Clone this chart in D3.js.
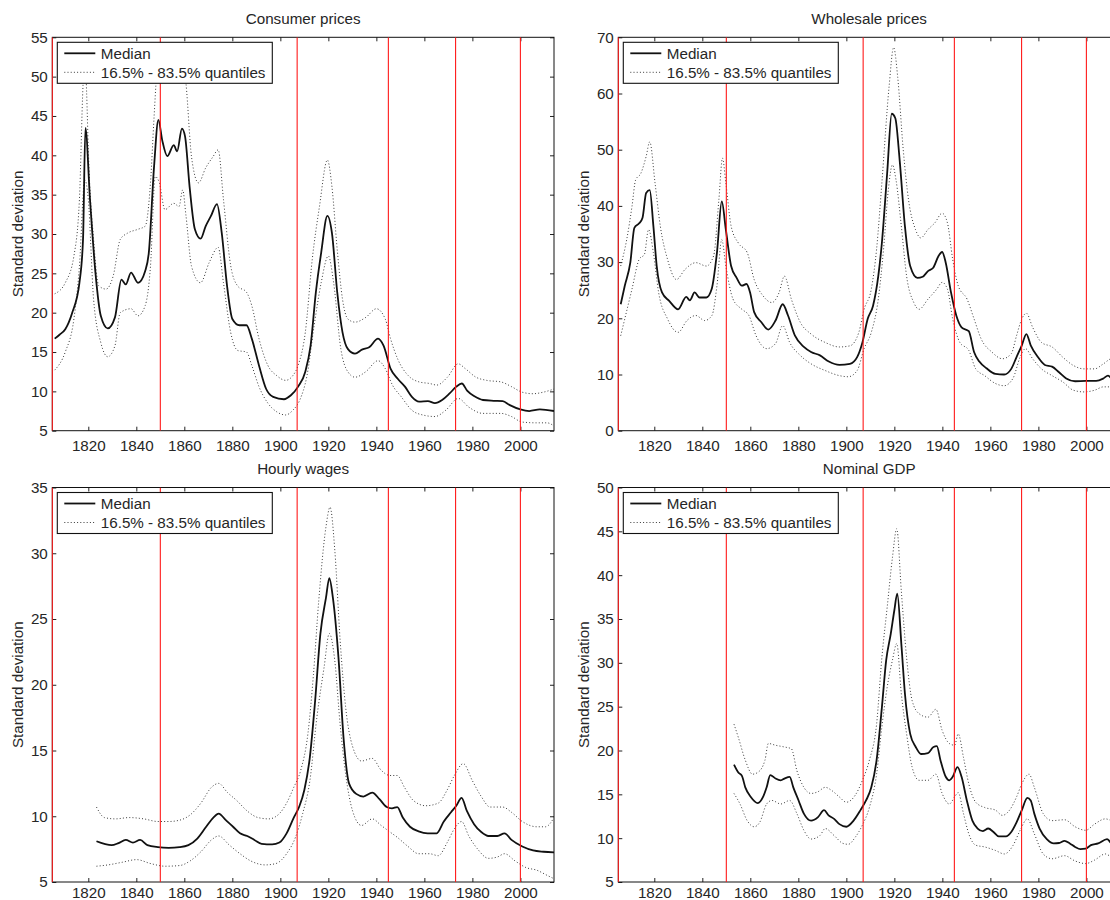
<!DOCTYPE html>
<html><head><meta charset="utf-8">
<script src="https://cdn.jsdelivr.net/npm/d3@7"></script>
<style>
html,body{margin:0;padding:0;background:#fff;}
svg{display:block;}
text{font-family:"Liberation Sans",Arial,Helvetica,sans-serif;fill:#262626;}
</style></head>
<body><svg id="chart" width="1110" height="900"></svg>
<script>
// ---------- DATA ----------
const panelTitles = ["Consumer prices", "Wholesale prices", "Hourly wages", "Nominal GDP"];
const xTickYears = [1820, 1840, 1860, 1880, 1900, 1920, 1940, 1960, 1980, 2000];
const xDomain = [1805, 2014];
const breakYears = [1805, 1850, 1907, 1945, 1973, 2000];
const legendLabels = ["Median", "16.5% - 83.5% quantiles"];

const cpiTicks = [5, 10, 15, 20, 25, 30, 35, 40, 45, 50, 55];
const wpiTicks = [0, 10, 20, 30, 40, 50, 60, 70];
const wageTicks = [5, 10, 15, 20, 25, 30, 35];
const gdpTicks = [5, 10, 15, 20, 25, 30, 35, 40, 45, 50];

const cpiMedian = [[1806,16.7],[1808,17.2],[1810.4,17.9],[1813.3,20],[1816.3,23.8],[1817.8,29.3],[1818.8,43.5],[1820.7,34.4],[1823,25],[1825.2,19.6],[1828.1,18.0],[1831.1,19.4],[1833.8,24.2],[1835.6,23.6],[1837.8,25.1],[1840.7,23.8],[1843.7,25.3],[1845.2,27.6],[1847.4,38.6],[1849.2,44.5],[1850.8,41.9],[1852.9,39.9],[1855.6,41.3],[1857,40.5],[1859,43.4],[1860.3,42.4],[1862.2,36.0],[1864.4,30.6],[1866.8,29.4],[1868.9,31.0],[1871.1,32.3],[1873.6,33.8],[1875.6,30.1],[1877.8,23.4],[1880,19.2],[1883,18.4],[1885.9,18.4],[1888.1,16.7],[1891.1,13.3],[1894.1,10.3],[1897,9.3],[1901.5,9.0],[1904.4,9.5],[1907.4,10.6],[1910.4,12.5],[1912.6,15.8],[1914.8,22.6],[1917,27.6],[1919.6,32.3],[1921.5,30.1],[1923.7,22.6],[1925.9,17.5],[1928.1,15.4],[1931.1,14.8],[1934,15.3],[1937,15.6],[1940.7,16.7],[1943,15.8],[1945.9,12.9],[1948.9,11.6],[1951.9,10.6],[1954.8,9.3],[1957.8,8.7],[1961.5,8.75],[1964.4,8.5],[1967.4,8.9],[1970.4,9.7],[1973.3,10.6],[1975.6,11.0],[1977.8,10.1],[1980.7,9.4],[1984.4,8.9],[1988.9,8.8],[1992.6,8.75],[1995.6,8.25],[2000,7.7],[2003.7,7.5],[2008.1,7.7],[2014,7.5]];
const cpiUpper = [[1806,22.4],[1810.4,23.8],[1814,27.2],[1816.3,34.4],[1817.8,48.9],[1818.6,53],[1819.3,48],[1820,40.7],[1822.2,29.3],[1824.4,23.4],[1827.4,23],[1830.4,24.7],[1833.3,29.3],[1836.3,30.1],[1840.7,30.6],[1843.7,31],[1845.9,36.5],[1847.4,44.9],[1848.4,50],[1849.5,53],[1852,51],[1855,51.5],[1858,52.5],[1860,51],[1860.7,49.1],[1863,39.8],[1865.9,36.5],[1868.9,38.4],[1871.9,39.8],[1874.1,40.7],[1876.3,34.4],[1879.3,26],[1882.2,23.4],[1885.9,22.6],[1888.1,20.9],[1891.1,16.7],[1894.8,13.3],[1898.5,12.0],[1902.2,11.4],[1905.2,12.0],[1907.4,13.3],[1910.4,17.5],[1913.3,26.8],[1916.3,33.5],[1919.6,39.4],[1921.5,36.0],[1923.7,28],[1925.9,21.7],[1928.1,19.2],[1931.1,18.8],[1935.6,19.4],[1940,20.5],[1943.7,19.2],[1945.9,16.7],[1948.9,14.1],[1953.3,12.0],[1957.8,11.2],[1962.2,11.0],[1965.2,10.8],[1969.6,11.8],[1974.1,13.5],[1977,12.9],[1981.5,11.8],[1985.9,11.4],[1991.9,11.2],[1996.3,10.6],[2000.7,9.9],[2005.2,9.7],[2009.6,9.9],[2014,10.3]];
const cpiLower = [[1806,12.7],[1810.4,15],[1814,19.2],[1816.3,25.9],[1818.5,36.9],[1820,34.4],[1822.2,21.7],[1825.2,16.2],[1828.1,14.4],[1831.1,15.8],[1833.3,20],[1837.8,20.5],[1840.7,19.6],[1843.7,20.9],[1845.9,25.9],[1847.9,37.3],[1849.6,36.5],[1851.9,33.1],[1855.6,33.9],[1857.8,33.5],[1859.3,35.6],[1860.7,32.3],[1863,25.9],[1866.7,23.8],[1870.4,26.4],[1874.1,28.3],[1876.3,23.8],[1879.3,17.5],[1882.2,15.2],[1885.9,15],[1888.1,13.3],[1891.1,10.6],[1894.8,8.5],[1898.5,7.4],[1902.2,7.0],[1905.2,7.6],[1908.1,8.9],[1911.1,12.0],[1914.1,18.4],[1917,23.8],[1920,27.2],[1922.2,23.8],[1925.2,15.4],[1928.1,12.5],[1931.1,11.8],[1935.6,12.5],[1940.7,13.9],[1943.7,12.9],[1946.7,10.8],[1950.4,9.3],[1954.8,7.6],[1959.3,7.0],[1964.4,6.8],[1968.9,7.6],[1974.1,9.1],[1978.5,8.0],[1984.4,7.2],[1991.9,7.2],[1996.3,6.8],[2000.7,6.1],[2006.7,6.0],[2011.1,6.0],[2014,5.6]];

const wpiMedian = [[1806,22.5],[1807.7,25.8],[1810,29.9],[1811.7,36.1],[1813.7,36.9],[1815.1,37.9],[1816.6,42.3],[1818.1,42.8],[1819.6,36.5],[1821,29.3],[1823.2,24.6],[1826.2,23.1],[1829.9,21.6],[1833.3,23.8],[1834.8,23.2],[1836.8,24.6],[1838.8,23.7],[1841.7,23.7],[1843.9,25.2],[1846.1,31.7],[1848.1,40.8],[1849.8,35.8],[1852,29.3],[1854.3,27.2],[1856.5,25.8],[1858.4,26.1],[1859.9,24.6],[1861.6,21.1],[1864.6,19.3],[1867.5,18.0],[1870.5,19.6],[1873.5,22.5],[1875.7,20.5],[1878.6,16.9],[1882.3,14.9],[1885.3,14.0],[1889,13.4],[1892.7,12.3],[1897.1,11.7],[1901.5,11.9],[1904.5,13.1],[1906.7,15.7],[1908.9,19.9],[1911.1,22.2],[1913.3,27.5],[1914.8,33.4],[1917,45.8],[1918.9,56.4],[1920.4,55.6],[1922.2,48.2],[1924.4,36.4],[1926.6,29.3],[1929.6,27.2],[1931.8,27.4],[1934,28.4],[1936.2,29.0],[1938.4,31.1],[1939.9,31.8],[1941.4,29.9],[1943.6,24.6],[1945.8,20.5],[1948,18.4],[1951,17.7],[1953.2,14.0],[1955.4,12.3],[1958.4,11.1],[1962.1,10.1],[1965.7,10.0],[1968.7,11.0],[1970.9,13.1],[1973.1,15.2],[1975,17.2],[1976.8,15.2],[1979.8,13.1],[1982.7,11.7],[1985.7,11.4],[1988.6,10.4],[1991.6,9.3],[1995.3,8.8],[1999.7,8.85],[2004.1,8.85],[2007.1,9.3],[2009,9.8],[2010.5,9.3],[2013,9.0]];
const wpiUpper = [[1806,29.3],[1808.5,34],[1810.7,39.9],[1812.2,44.6],[1814.4,45.8],[1816.6,48.8],[1818.1,51.4],[1820.3,44.1],[1822.5,36.4],[1825.5,30.5],[1829.2,26.9],[1832.8,28.7],[1837.3,29.9],[1841.7,29.3],[1844.7,31.1],[1846.9,41.1],[1848.4,48.5],[1849.8,44.1],[1852,36.4],[1855,33.4],[1858.7,31.7],[1861.6,26.9],[1865.3,24.0],[1869,22.8],[1872,24.6],[1874.2,27.5],[1877.1,23.4],[1880.8,19.3],[1885.3,17.2],[1891.2,15.7],[1897.1,14.9],[1901.5,15.1],[1905.2,17.5],[1907.4,21.6],[1910.4,25.2],[1912.6,32.3],[1914.8,44.1],[1917.8,61.2],[1919.7,68.2],[1921.4,62.9],[1923.7,50.0],[1925.9,41.1],[1928.8,35.8],[1931,34.3],[1934,35.8],[1936.9,37.0],[1939.9,38.7],[1942.1,37],[1944.3,30.5],[1946.6,25.8],[1950.3,23.4],[1953.2,19.9],[1956.2,16.3],[1960.6,14.0],[1965,12.8],[1968.7,13.7],[1970.9,16.9],[1973.1,19.9],[1975,20.9],[1977.6,18.4],[1981.3,15.7],[1985.7,14.9],[1990.1,13.1],[1994.6,11.6],[1999,11.0],[2003.4,11.0],[2007.1,11.9],[2010.5,12.8],[2013,12.5]];
const wpiLower = [[1806,16.9],[1807.7,19.9],[1810.7,25.2],[1813.7,30.5],[1815.9,31.4],[1817.6,35.8],[1819.6,31.7],[1821.8,24.6],[1825.5,19.9],[1829.9,17.5],[1833.6,19.6],[1837.3,20.5],[1841,19.6],[1844,20.5],[1846.1,25.8],[1848.1,34],[1849.8,29.3],[1852.8,23.4],[1856.5,21.6],[1859.4,20.5],[1862.4,16.9],[1866.8,14.6],[1870.5,15.5],[1873.5,18.7],[1876.4,15.7],[1880.8,13.4],[1885.3,11.9],[1891.2,10.7],[1897.1,9.8],[1900.8,9.6],[1904.5,10.7],[1907.4,14.6],[1910.4,17.5],[1913.3,23.4],[1915.5,32.3],[1917.5,42.9],[1919.2,47.3],[1920.7,44.6],[1922.9,36.4],[1925.1,27.5],[1928.1,22.8],[1930.3,21.6],[1934,23.4],[1937.7,25.2],[1939.9,26.4],[1942.1,25.2],[1944.3,19.9],[1947.3,15.7],[1951,14.3],[1953.9,11.0],[1957.6,9.8],[1962.1,8.4],[1965.7,8.0],[1969.4,9.3],[1972.4,13.1],[1974.6,14.6],[1977.6,12.8],[1981.3,11.0],[1985.7,9.8],[1990.1,8.7],[1994.6,7.2],[1999,6.9],[2003.4,7.2],[2007.1,7.8],[2010.5,7.8],[2013,7.6]];

const wageMedian = [[1823.4,8.1],[1826.7,7.9],[1829.7,7.8],[1832.6,7.96],[1835.6,8.2],[1838.6,8.0],[1841.6,8.2],[1844.6,7.8],[1849,7.65],[1853.5,7.6],[1858,7.65],[1861.7,7.8],[1865.4,8.3],[1869.1,9.2],[1872.1,9.9],[1874.3,10.2],[1877.3,9.7],[1880.3,9.2],[1883.2,8.7],[1886.2,8.5],[1889.2,8.2],[1892.2,7.9],[1896.6,7.86],[1899.6,8.0],[1902.6,8.7],[1905.6,9.9],[1907.8,10.7],[1910,12.0],[1912.3,14.5],[1914.5,18.8],[1916.7,23.9],[1919,26.6],[1920.4,28.1],[1921.9,26.6],[1924.2,22.1],[1926.4,15.8],[1928.6,12.5],[1931.6,11.7],[1934.6,11.5],[1938.3,11.8],[1941.3,11.3],[1944.3,10.7],[1946.5,10.6],[1948.7,10.7],[1951,9.9],[1954,9.2],[1957.6,8.85],[1961.4,8.7],[1965.1,8.7],[1968.1,9.6],[1971.1,10.3],[1973.3,10.8],[1975.5,11.4],[1977.7,10.4],[1980.7,9.4],[1983.7,8.8],[1986.7,8.5],[1990.4,8.5],[1993.4,8.7],[1996.3,8.2],[2000.8,7.7],[2005.3,7.4],[2009.7,7.3],[2014,7.25]];
const wageUpper = [[1823.4,10.7],[1826.7,9.9],[1831.2,9.8],[1837.1,9.9],[1843.1,9.8],[1849,9.6],[1853.5,9.6],[1858,9.7],[1862.4,10.1],[1866.9,11.0],[1871.3,12.2],[1874.3,12.5],[1878,11.8],[1881.8,11.2],[1886.2,10.4],[1890.7,9.9],[1895.2,9.8],[1899.6,10.2],[1902.6,11.0],[1905.6,12.2],[1908.5,13.5],[1911.5,16.3],[1913.8,20.8],[1916,26.4],[1919,32.0],[1920.7,33.5],[1922.7,30.2],[1924.9,23.4],[1927.2,18.3],[1930.1,15.3],[1933.8,14.2],[1938.3,14.4],[1942,13.5],[1945.7,13.1],[1948.7,13.1],[1951.7,12.2],[1955.4,11.2],[1960.6,10.8],[1965.8,11.0],[1969.5,12.0],[1972.5,13.1],[1976.2,14.0],[1980,12.7],[1983.7,11.5],[1987.4,10.7],[1992.6,10.7],[1996.3,10.3],[2000.8,9.6],[2006.8,9.2],[2010.5,9.2],[2014,9.9]];
const wageLower = [[1823.4,6.2],[1828.2,6.3],[1834.1,6.5],[1840.1,6.7],[1846,6.4],[1852,6.2],[1858,6.25],[1862.4,6.6],[1866.9,7.3],[1871.3,8.2],[1874.3,8.5],[1878.8,7.8],[1883.2,7.15],[1887.7,6.6],[1893.7,6.3],[1898.1,6.4],[1902.6,7.15],[1906.3,8.4],[1909.3,10.2],[1912.3,12.7],[1915.2,17.5],[1918.2,21.3],[1920.4,23.9],[1922.7,21.8],[1924.9,17.0],[1927.2,13.2],[1930.1,10.4],[1933.8,9.3],[1938.3,9.8],[1942,9.3],[1945.7,8.8],[1948.7,8.4],[1953.2,7.7],[1957.6,7.15],[1962.1,7.15],[1965.8,7.0],[1969.5,8.0],[1972.5,9.05],[1975.5,9.6],[1978.5,8.5],[1982.2,7.5],[1986.7,6.8],[1990.4,6.9],[1993.4,7.15],[1997.8,6.6],[2002.3,6.1],[2006.8,5.9],[2011.2,5.5],[2014,5.25]];

const gdpMedian = [[1853.2,18.4],[1855,17.5],[1856.5,17.1],[1857.9,15.8],[1860.2,14.7],[1863.1,14.0],[1865.3,14.7],[1866.8,15.8],[1868.3,17.2],[1870.5,16.8],[1872.7,16.6],[1874.2,16.8],[1876.4,17.0],[1877.9,15.8],[1880.1,14.3],[1882.3,12.8],[1885.3,12.0],[1888.2,12.4],[1890.7,13.2],[1892.6,12.6],[1894.9,12.2],[1897.1,11.6],[1900,11.3],[1903,12.0],[1905.9,13.2],[1908.2,14.3],[1910.4,15.8],[1912.6,18.9],[1914.8,24.9],[1916.6,30.3],[1918.5,33.3],[1920,36],[1921.2,37.9],[1923,31.8],[1924.4,26.5],[1926.6,21.9],[1928.9,20.4],[1931.1,19.6],[1934,19.7],[1936.3,20.4],[1937.7,20.5],[1939.2,18.9],[1941.4,17.0],[1942.9,16.6],[1944.3,17.0],[1946.3,18.1],[1948,17.0],[1950.2,14.3],[1952.5,12.0],[1954.7,11.1],[1956.9,10.8],[1959.1,11.1],[1961.3,10.7],[1963.5,10.2],[1966.5,10.2],[1968.7,10.7],[1970.9,11.8],[1973.1,13.2],[1975.4,14.6],[1976.8,14.3],[1978.3,12.8],[1980.5,11.1],[1983.5,9.9],[1986.4,9.4],[1988.6,9.45],[1990.9,9.7],[1993.1,9.4],[1995.3,9.0],[1997.5,8.75],[1999.7,8.8],[2001.9,9.2],[2004.9,9.4],[2008.6,9.9],[2010.5,9.4],[2013,9.2]];
const gdpUpper = [[1853.2,23.0],[1855,21.5],[1857.9,18.9],[1860.9,17.3],[1863.1,17.5],[1866.1,18.9],[1867.5,20.8],[1870.5,20.6],[1874.2,20.4],[1877.1,20.2],[1879.4,17.7],[1882.3,15.8],[1885.3,15.1],[1888.2,15.3],[1891.2,15.8],[1894.1,15.4],[1897.1,14.7],[1900,14.1],[1903.7,14.9],[1906.7,16.6],[1909.6,18.9],[1912.6,23.0],[1914.8,30.6],[1917,36.3],[1919.2,42],[1921,45.3],[1922.9,38.2],[1925.1,30.6],[1927.4,25.7],[1930.3,24.2],[1934,23.8],[1937.3,24.7],[1939.9,22.3],[1942.9,20.8],[1945.1,20.6],[1946.6,21.9],[1948.8,19.2],[1951,16.2],[1953.9,14.1],[1957.6,13.5],[1962.1,13.2],[1965,12.6],[1968,13.2],[1970.9,14.7],[1973.1,16.2],[1976.1,17.3],[1978.3,15.8],[1982,12.8],[1985.7,12.0],[1990.9,12.1],[1995.3,11.3],[1999.7,10.9],[2003.4,11.6],[2007.9,12.2],[2010.5,12.0],[2013,11.8]];
const gdpLower = [[1853.2,15.1],[1855.7,13.9],[1858.7,12.0],[1861.6,11.3],[1863.9,11.8],[1866.8,13.9],[1869,14.3],[1872.7,13.9],[1876.4,14.3],[1879.4,12.8],[1882.3,10.9],[1885.3,9.9],[1889,10.3],[1891.2,11.1],[1894.9,10.3],[1898.6,9.4],[1900.8,9.3],[1903.7,10.1],[1906.7,11.5],[1909.6,13.5],[1912.6,17.3],[1914.8,22.7],[1917,27.2],[1919.2,30.3],[1921,32.2],[1922.9,26.5],[1925.1,21.9],[1927.4,18.1],[1930.3,16.6],[1934,16.6],[1937.3,17.3],[1939.9,15.1],[1942.9,13.9],[1945.1,14.7],[1946.6,15.2],[1948.8,12.8],[1951,10.5],[1953.9,9.2],[1957.6,9.0],[1962.1,8.6],[1965.8,8.2],[1969.5,9.2],[1972.4,10.9],[1975.4,12.2],[1978.3,10.5],[1982,8.2],[1985.7,7.65],[1990.9,8.0],[1995.3,7.4],[1999.7,7.1],[2003.4,7.5],[2007.9,8.2],[2010.5,7.85],[2013,7.7]];

// ---------- LAYOUT ----------
const svg = d3.select("#chart");
const FS = 15.2;
const panels = [
  {title: panelTitles[0], x0: 52.3, x1: 554, y0: 37.3, y1: 430.7, ticks: cpiTicks, med: cpiMedian, up: cpiUpper, lo: cpiLower, labGap: 9.5},
  {title: panelTitles[1], x0: 618.3, x1: 1120, y0: 37.3, y1: 430.7, ticks: wpiTicks, med: wpiMedian, up: wpiUpper, lo: wpiLower, labGap: 9.5},
  {title: panelTitles[2], x0: 52.3, x1: 554, y0: 487.5, y1: 882, ticks: wageTicks, med: wageMedian, up: wageUpper, lo: wageLower, labGap: 5},
  {title: panelTitles[3], x0: 618.3, x1: 1120, y0: 487.5, y1: 882, ticks: gdpTicks, med: gdpMedian, up: gdpUpper, lo: gdpLower, labGap: 5}
];

panels.forEach((p, i) => {
  const x = d3.scaleLinear().domain(xDomain).range([p.x0, p.x1]);
  const y = d3.scaleLinear().domain(d3.extent(p.ticks)).range([p.y1, p.y0]);
  const w = p.x1 - p.x0, h = p.y1 - p.y0;

  const clipId = "clip" + i;
  svg.append("clipPath").attr("id", clipId)
    .append("rect").attr("x", p.x0 - 1).attr("y", p.y0).attr("width", w + 1).attr("height", h);

  const g = svg.append("g");
  const plot = g.append("g").attr("clip-path", `url(#${clipId})`);

  const line = d3.line().x(d => x(d[0])).y(d => y(d[1])).curve(d3.curveMonotoneX);

  [p.up, p.lo].forEach(s => {
    plot.append("path").datum(s).attr("d", line)
      .attr("fill", "none").attr("stroke", "#3a3a3a").attr("stroke-width", 1)
      .attr("stroke-dasharray", "1,2.2");
  });
  plot.append("path").datum(p.med).attr("d", line)
    .attr("fill", "none").attr("stroke", "#111").attr("stroke-width", 1.8)
    .attr("stroke-linejoin", "round");

  // axes
  const ax = (sel) => { sel.select(".domain").remove(); sel.selectAll("text").style("font-size", FS + "px").style("fill", "#262626"); sel.selectAll(".tick line").attr("stroke", "#222"); };
  g.append("g").attr("transform", `translate(0,${p.y1})`)
    .call(d3.axisBottom(x).tickValues(xTickYears).tickFormat(d3.format("d")).tickSizeInner(-4).tickSizeOuter(0).tickPadding(p.labGap))
    .call(ax);
  g.append("g").attr("transform", `translate(0,${p.y0})`)
    .call(d3.axisTop(x).tickValues(xTickYears).tickFormat("").tickSizeInner(-4).tickSizeOuter(0))
    .call(ax);
  g.append("g").attr("transform", `translate(${p.x0},0)`)
    .call(d3.axisLeft(y).tickValues(p.ticks).tickFormat(d3.format("d")).tickSizeInner(-4).tickSizeOuter(0).tickPadding(4.5))
    .call(ax);
  g.append("g").attr("transform", `translate(${p.x1},0)`)
    .call(d3.axisRight(y).tickValues(p.ticks).tickFormat("").tickSizeInner(-4).tickSizeOuter(0))
    .call(ax);

  g.append("rect").attr("x", p.x0).attr("y", p.y0).attr("width", w).attr("height", h)
    .attr("fill", "none").attr("stroke", "#111").attr("stroke-width", 1);

  // break lines (drawn over the box, as in the reference)
  plot.selectAll("line.brk").data(breakYears).enter().append("line")
    .attr("class", "brk")
    .attr("x1", d => x(d)).attr("x2", d => x(d))
    .attr("y1", p.y0).attr("y2", p.y1)
    .attr("stroke", "#ff1a1a").attr("stroke-width", 1.1);
  plot.raise();

  // title
  g.append("text").attr("x", (p.x0 + p.x1) / 2).attr("y", p.y0 - 13.3)
    .attr("text-anchor", "middle").style("font-size", FS + "px").text(p.title);

  // y label
  g.append("text").attr("transform", `translate(${p.x0 - 29},${(p.y0 + p.y1) / 2}) rotate(-90)`)
    .attr("text-anchor", "middle").style("font-size", FS + "px").text("Standard deviation");

  // legend
  const lg = g.append("g");
  lg.append("rect").attr("x", p.x0 + 5).attr("y", p.y0 + 5).attr("width", 215).attr("height", 41)
    .attr("fill", "#fff").attr("stroke", "#111").attr("stroke-width", 1.1);
  lg.append("line").attr("x1", p.x0 + 12).attr("x2", p.x0 + 43).attr("y1", p.y0 + 16).attr("y2", p.y0 + 16)
    .attr("stroke", "#111").attr("stroke-width", 1.8);
  lg.append("line").attr("x1", p.x0 + 12).attr("x2", p.x0 + 43).attr("y1", p.y0 + 35).attr("y2", p.y0 + 35)
    .attr("stroke", "#3a3a3a").attr("stroke-width", 1).attr("stroke-dasharray", "1,2.2");
  lg.append("text").attr("x", p.x0 + 48.5).attr("y", p.y0 + 21.2).style("font-size", FS + "px").text(legendLabels[0]);
  lg.append("text").attr("x", p.x0 + 48.5).attr("y", p.y0 + 40.2).style("font-size", FS + "px").text(legendLabels[1]);
});
</script></body></html>
